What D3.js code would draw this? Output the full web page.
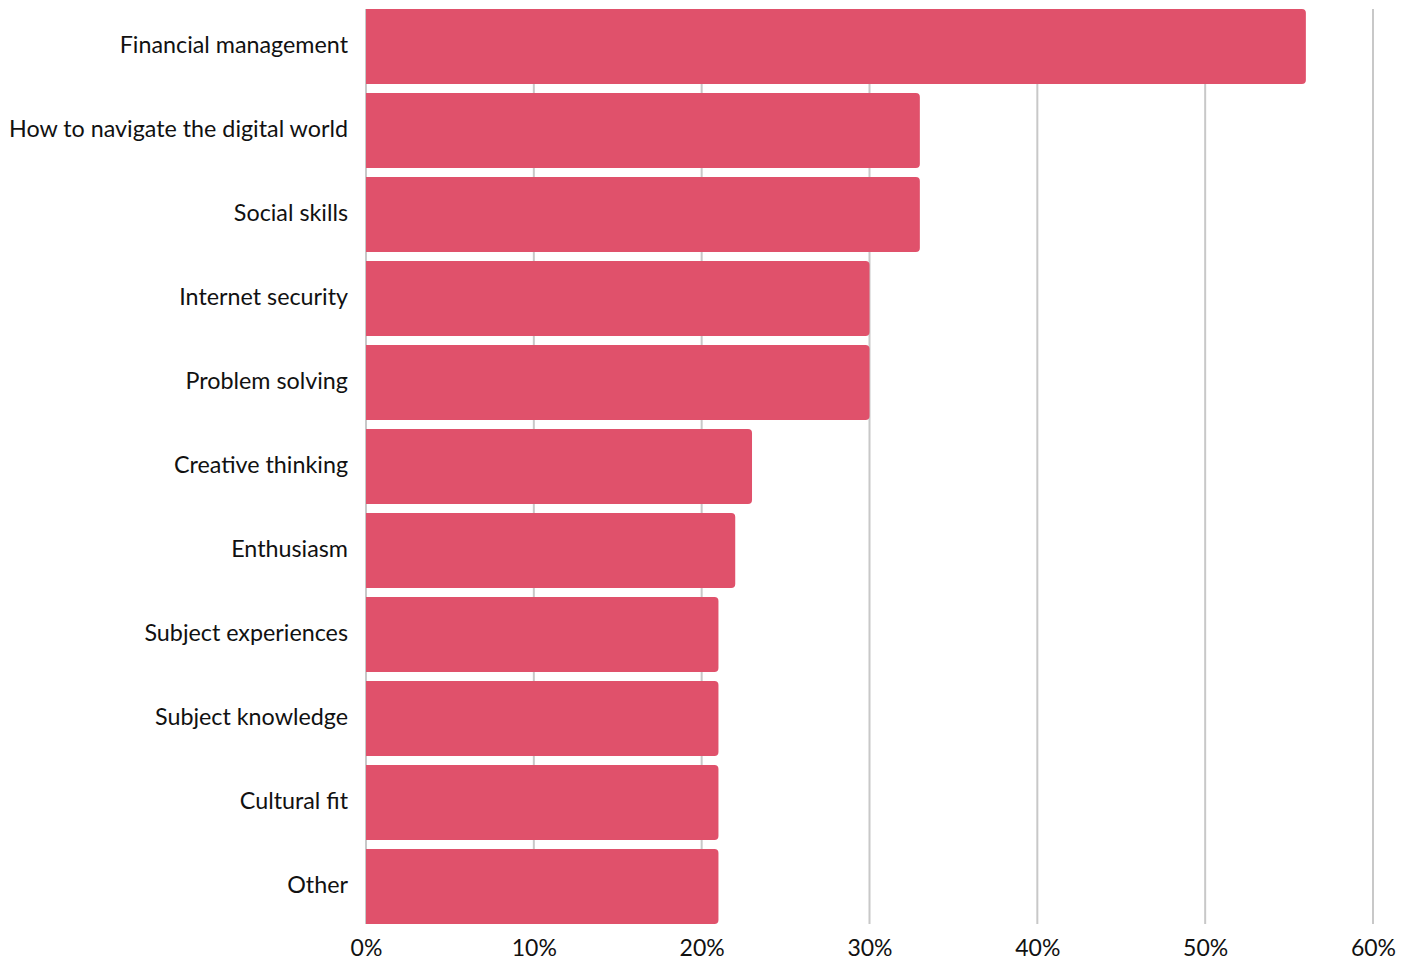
<!DOCTYPE html>
<html>
<head>
<meta charset="utf-8">
<script src="https://cdn.jsdelivr.net/npm/d3@7"></script>
<style>
  html, body { margin: 0; padding: 0; background: #fff; }
  svg text { font-family: "Source Sans Pro", Lato, "Noto Sans", sans-serif; fill: #111; }
</style>
</head>
<body>
<svg id="chart" width="1411" height="962"></svg>
<script>
// Share of respondents per skill
const categories = [
  "Financial management",
  "How to navigate the digital world",
  "Social skills",
  "Internet security",
  "Problem solving",
  "Creative thinking",
  "Enthusiasm",
  "Subject experiences",
  "Subject knowledge",
  "Cultural fit",
  "Other"
];
const values = [56, 33, 33, 30, 30, 23, 22, 21, 21, 21, 21];
const xTicks = [0, 10, 20, 30, 40, 50, 60];

const svg = d3.select("#chart");
const plotLeft = 366, plotRight = 1373, plotTop = 9, plotBottom = 924;

const x = d3.scaleLinear().domain([0, 60]).range([plotLeft, plotRight]);
const y = d3.scaleBand().domain(categories)
  .range([plotTop, plotBottom]).paddingInner(0.107).paddingOuter(0);

// vertical gridlines
svg.append("g").selectAll("line").data(xTicks).join("line")
  .attr("x1", d => x(d)).attr("x2", d => x(d))
  .attr("y1", plotTop).attr("y2", plotBottom)
  .attr("stroke", "#c8c8c8").attr("stroke-width", 2);

// bars: square left edge, rounded right corners
const r = 4;
function barPath(d, i) {
  const x0 = x(0), x1 = x(d), y0 = y(categories[i]), h = y.bandwidth();
  return `M${x0},${y0}H${x1 - r}A${r},${r} 0 0 1 ${x1},${y0 + r}` +
         `V${y0 + h - r}A${r},${r} 0 0 1 ${x1 - r},${y0 + h}H${x0}Z`;
}
svg.append("g").selectAll("path").data(values).join("path")
  .attr("d", barPath)
  .attr("fill", "#E0516B");

// category labels
const yAxis = d3.axisLeft(y).tickSize(0).tickPadding(18);
const gy = svg.append("g").attr("transform", `translate(${plotLeft},0)`).call(yAxis);
gy.select(".domain").remove();
gy.selectAll("text").style("font-size", "23.3px").attr("dy", "0.28em");

// percentage axis
const xAxis = d3.axisBottom(x).tickValues(xTicks).tickFormat(d => d + "%").tickSize(0).tickPadding(16);
const gx = svg.append("g").attr("transform", `translate(0,${plotBottom})`).call(xAxis);
gx.select(".domain").remove();
gx.selectAll("text").style("font-size", "23px");
</script>
</body>
</html>
